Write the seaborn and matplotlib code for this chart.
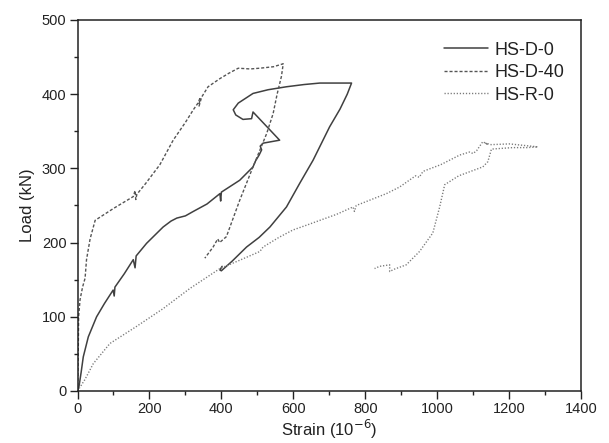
import matplotlib
matplotlib.use("Agg")
import matplotlib.pyplot as plt
import seaborn as sns
import pandas as pd

# ---- data ----
strain_d0 = [0, 4, 10, 16, 30, 53, 75, 99, 102, 104, 130, 155, 160, 163, 192, 215, 238, 260, 276,
             300, 322, 360, 396, 398, 400, 451, 488, 495, 505, 512, 508, 516, 562, 488, 484, 460,
             440, 433, 447, 488, 530, 581, 630, 674, 720, 762, 750, 730, 701, 655, 618, 581, 535,
             505, 470, 430, 400, 396, 402]
load_d0 = [0, 6, 25, 46, 73, 100, 118, 136, 128, 140, 158, 177, 166, 182, 199, 210, 221, 229, 233,
           236, 242, 252, 266, 256, 268, 284, 302, 310, 318, 325, 330, 334, 338, 376, 367, 366,
           372, 379, 388, 401, 406, 410, 413, 415, 415, 415, 400, 380, 356, 311, 280, 248, 221,
           207, 194, 175, 162, 163, 168]

strain_d40 = [0, 2, 3, 7, 14, 21, 25, 35, 49, 100, 155, 160, 162, 165, 190, 229, 266, 300, 322,
              335, 340, 338, 345, 363, 396, 420, 447, 480, 507, 545, 572, 567, 555, 544, 526,
              488, 451, 414, 395, 390, 377, 354]
load_d40 = [0, 50, 100, 123, 140, 152, 177, 205, 230, 246, 262, 270, 258, 265, 280, 305, 338, 362,
            379, 388, 394, 384, 396, 410, 421, 428, 435, 434, 435, 437, 441, 424, 400, 374, 347,
            302, 257, 208, 200, 205, 194, 179]

strain_r0 = [0, 20, 44, 90, 164, 238, 312, 396, 450, 507, 516, 560, 599, 640, 674, 720, 766, 770,
             775, 859, 896, 940, 950, 961, 1010, 1063, 1090, 1100, 1110, 1127, 1141, 1135, 1150,
             1201, 1240, 1280, 1250, 1210, 1151, 1141, 1127, 1060, 1021, 1007, 988, 951, 914, 880,
             868, 868, 840, 826]
load_r0 = [0, 15, 37, 64, 87, 111, 138, 165, 176, 188, 194, 207, 217, 224, 230, 238, 248, 242,
           250, 266, 275, 290, 288, 296, 305, 318, 322, 320, 324, 336, 332, 334, 332,
           333, 331, 329, 328, 328, 326, 309, 302, 290, 278, 248, 213, 188, 170, 164,
           161, 170, 168, 165]

labels = ["HS-D-0", "HS-D-40", "HS-R-0"]
x_ticks = [0, 200, 400, 600, 800, 1000, 1200, 1400]
y_ticks = [0, 100, 200, 300, 400, 500]

sns.set_theme(style="white")
plt.rcParams['font.family'] = ['Liberation Sans', 'DejaVu Sans']

fig = plt.figure(figsize=(6.09, 4.43), dpi=100)
ax = fig.add_axes([0.1273, 0.1174, 0.8267, 0.8375])

series = [(strain_d0, load_d0, "#404040", (None, None), 1.1),
          (strain_d40, load_d40, "#555555", (2.2, 1.4), 1.0),
          (strain_r0, load_r0, "#7a7a7a", (0.9, 1.3), 1.0)]
for (xs, ys, col, dash, lw), lab in zip(series, labels):
    df = pd.DataFrame({"Strain": xs, "Load": ys})
    sns.lineplot(data=df, x="Strain", y="Load", sort=False, estimator=None,
                 color=col, lw=lw, ax=ax, label=lab)
    if dash[0] is not None:
        ax.lines[-1].set_dashes(dash)

ax.set_xlim(0, 1400)
ax.set_ylim(0, 500)
ax.set_xticks(x_ticks)
ax.set_yticks(y_ticks)
ax.set_xticks(range(100, 1400, 200), minor=True)
ax.set_yticks(range(50, 500, 100), minor=True)
ax.tick_params(which="major", direction="out", length=6, width=1.0, color="#222222",
               labelsize=10.5, labelcolor="#222222", bottom=True, left=True, pad=2)
ax.tick_params(which="minor", direction="out", length=3.2, width=1.0, color="#222222",
               bottom=True, left=True)
for s in ax.spines.values():
    s.set_color("#222222")
    s.set_linewidth(1.1)

ax.set_xlabel("Strain (10$^{-6}$)", fontsize=12, color="#222222", labelpad=1)
ax.set_ylabel("Load (kN)", fontsize=12, color="#222222", labelpad=5)

leg = ax.legend(loc="upper right", bbox_to_anchor=(1.0, 0.985), frameon=False,
                fontsize=13, handlelength=2.4, handletextpad=0.4, labelspacing=0.3)
for t in leg.get_texts():
    t.set_color("#222222")

fig.savefig("out.png", dpi=100)
